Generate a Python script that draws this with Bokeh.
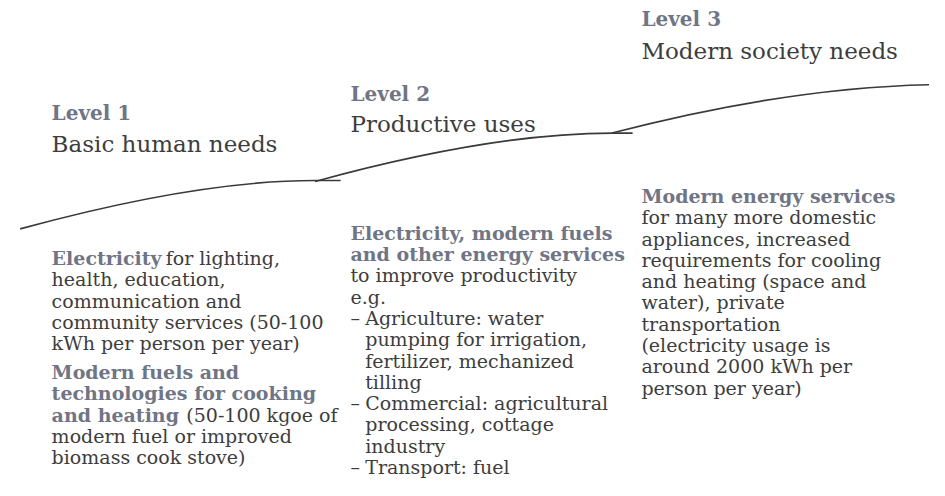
from bokeh.plotting import figure
from bokeh.models import Range1d
from bokeh.core.properties import value
from bokeh.embed import file_html
from bokeh.resources import INLINE

FONT = "DejaVu Serif"
BOLD_C = "#707585"
TEXT_C = "#3d3d3d"
LINE_C = "#3a3a3a"

# ---- staircase curves (quadratic segments, in reference pixel units) ----
curve_x0 = [20, 320, 622]
curve_y0 = [236, 187, 137]
curve_cx = [200, 500, 800]
curve_cy = [186, 137, 90]
curve_x1 = [320, 622, 945]
curve_y1 = [186, 137, 87]
tail_x0 = [320, 622]
tail_x1 = [346, 643]
tail_y = [186, 137]

# ---- level headings ----
level_titles = ["Level 1", "Level 2", "Level 3"]
level_subtitles = ["Basic human needs", "Productive uses", "Modern society needs"]

# ---- body text: (bold part, regular part, kind) ----
col1 = [
    ("Electricity", "for lighting,", "line"),
    ("", "health, education,", "line"),
    ("", "communication and", "line"),
    ("", "community services (50-100", "line"),
    ("", "kWh per person per year)", "line"),
    ("Modern fuels and", "", "para"),
    ("technologies for cooking", "", "line"),
    ("and heating", "(50-100 kgoe of", "line"),
    ("", "modern fuel or improved", "line"),
    ("", "biomass cook stove)", "line"),
]
col2 = [
    ("Electricity, modern fuels", "", "line"),
    ("and other energy services", "", "line"),
    ("", "to improve productivity", "line"),
    ("", "e.g.", "line"),
    ("", "Agriculture: water", "dash"),
    ("", "pumping for irrigation,", "indent"),
    ("", "fertilizer, mechanized", "indent"),
    ("", "tilling", "indent"),
    ("", "Commercial: agricultural", "dash"),
    ("", "processing, cottage", "indent"),
    ("", "industry", "indent"),
    ("", "Transport: fuel", "dash"),
]
col3 = [
    ("Modern energy services", "", "line"),
    ("", "for many more domestic", "line"),
    ("", "appliances, increased", "line"),
    ("", "requirements for cooling", "line"),
    ("", "and heating (space and", "line"),
    ("", "water), private", "line"),
    ("", "transportation", "line"),
    ("", "(electricity usage is", "line"),
    ("", "around 2000 kWh per", "line"),
    ("", "person per year)", "line"),
]

# ---- layout ----
W, H = 929, 480
REF_W, REF_H = 945, 496
col_x = [52, 356, 652]
title_y = [116, 97, 19]
sub_y = [148, 128, 52]
body_top = [266, 240, 202]
LH = 22
PARA = 8
INDENT = 15
BODY_FS = 19
# offset of the regular text after a bold lead-in (reference px)
bold_w = {"Electricity": 116, "and heating": 137}

p = figure(width=W, height=H, output_backend="svg", toolbar_location=None,
           x_range=Range1d(0, REF_W), y_range=Range1d(REF_H, 0),
           min_border=0)
p.axis.visible = False
p.grid.visible = False
p.outline_line_color = None
p.background_fill_color = "white"
p.border_fill_color = "white"

p.quadratic(x0=curve_x0, y0=curve_y0, x1=curve_x1, y1=curve_y1,
            cx=curve_cx, cy=curve_cy, line_color=LINE_C, line_width=1.6)
p.segment(x0=tail_x0, y0=tail_y, x1=tail_x1, y1=tail_y,
          line_color=LINE_C, line_width=1.6)

p.text(x=col_x, y=title_y, text=level_titles, text_font=value(FONT),
       text_font_style="bold", text_font_size="20px", text_color=BOLD_C,
       text_baseline="middle", text_align="left")
p.text(x=col_x, y=sub_y, text=level_subtitles, text_font=value(FONT),
       text_font_size="23px", text_color=TEXT_C,
       text_baseline="middle", text_align="left")

bx, by, bt = [], [], []
rx, ry, rt = [], [], []
for cx0, top, col in zip(col_x, body_top, [col1, col2, col3]):
    y = top
    for i, (b, r, kind) in enumerate(col):
        if i > 0:
            y += LH + (PARA if kind == "para" else 0)
        x = cx0
        if kind == "dash":
            rx.append(cx0); ry.append(y); rt.append("–")
            x = cx0 + INDENT
        elif kind == "indent":
            x = cx0 + INDENT
        if b:
            bx.append(x); by.append(y); bt.append(b)
        if r:
            rx.append(x + (bold_w.get(b, 0) if b else 0)); ry.append(y); rt.append(r)

p.text(x=bx, y=by, text=bt, text_font=value(FONT), text_font_style="bold",
       text_font_size=f"{BODY_FS}px", text_color=BOLD_C,
       text_baseline="middle", text_align="left")
p.text(x=rx, y=ry, text=rt, text_font=value(FONT),
       text_font_size=f"{BODY_FS}px", text_color=TEXT_C,
       text_baseline="middle", text_align="left")

open("out.html", "w").write(file_html(p, INLINE))
